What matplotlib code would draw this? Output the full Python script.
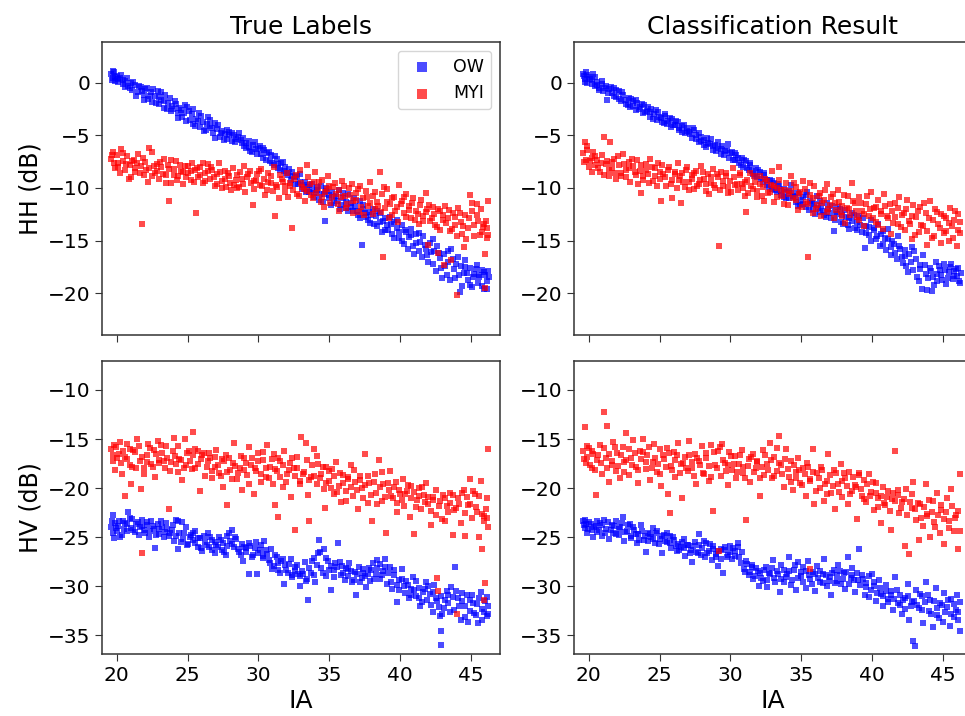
import numpy as np
import matplotlib
matplotlib.use("Agg")
import matplotlib.pyplot as plt

# (IA, dB) pairs, one list per panel and class
hh_ow_true = [(19.6,0.9),(19.7,0.5),(19.8,1.0),(19.9,0.2),(20.0,0.7),(20.1,0.4),(20.3,0.8),(20.4,-0.1),
    (20.6,0.2),(20.8,-0.3),(21.0,0.0),(21.1,-0.7),(21.3,-0.2),(21.5,-0.9),(21.7,-0.4),(21.9,-1.1),
    (22.0,-0.6),(22.2,-1.5),(22.4,-0.9),(22.5,-1.8),(22.7,-1.2),(22.9,-0.8),(23.0,-2.0),(23.1,-1.6),
    (23.3,-2.4),(23.4,-1.1),(23.6,-1.9),(23.8,-2.7),(23.9,-2.2),(24.1,-1.7),(24.3,-2.9),(24.4,-2.4),
    (24.6,-3.2),(24.8,-2.1),(24.9,-3.6),(25.1,-2.7),(25.3,-3.0),(25.4,-3.9),(25.6,-3.4),(25.8,-2.9),
    (25.9,-4.2),(26.1,-3.7),(26.3,-4.5),(26.4,-3.2),(26.6,-4.1),(26.8,-4.8),(26.9,-3.8),(27.1,-4.4),
    (27.3,-5.1),(27.4,-4.6),(27.6,-4.9),(27.8,-5.3),(27.9,-4.7),(28.1,-5.5),(28.3,-5.0),(28.4,-5.3),
    (28.6,-4.8),(28.8,-5.7),(28.9,-5.2),(29.1,-6.2),(29.3,-5.5),(29.4,-6.5),(29.6,-5.9),(29.8,-6.3),
    (29.9,-6.8),(30.1,-6.0),(30.3,-7.1),(30.4,-6.4),(30.6,-6.7),(30.8,-7.4),(30.9,-6.9),(31.1,-7.8),
    (31.3,-7.2),(31.4,-8.1),(31.6,-7.6),(31.8,-8.4),(31.9,-8.0),(32.1,-8.8),(32.3,-9.2),(32.4,-8.5),
    (32.6,-9.0),(32.8,-9.6),(32.9,-8.7),(33.1,-10.1),(33.3,-9.4),(33.4,-9.9),(33.6,-10.4),(33.8,-9.6),
    (33.9,-10.9),(34.1,-10.2),(34.3,-11.1),(34.4,-9.8),(34.6,-10.6),(34.7,-13.1),(34.8,-10.0),(35.0,-11.0),
    (35.2,-10.4),(35.3,-11.4),(35.5,-10.8),(35.7,-10.2),(35.8,-11.6),(36.0,-11.0),(36.2,-11.9),(36.3,-10.6),
    (36.5,-11.4),(36.7,-12.2),(36.8,-11.7),(37.0,-12.6),(37.2,-11.2),(37.3,-15.4),(37.4,-12.0),(37.6,-12.8),
    (37.8,-12.3),(37.9,-13.3),(38.1,-12.0),(38.3,-12.7),(38.4,-13.6),(38.6,-12.4),(38.8,-13.1),(38.9,-14.0),
    (39.1,-13.5),(39.3,-12.8),(39.4,-14.4),(39.6,-13.2),(39.8,-13.8),(39.9,-14.8),(40.1,-13.5),(40.3,-15.3),
    (40.4,-14.2),(40.6,-14.7),(40.8,-13.9),(40.9,-15.5),(41.1,-14.4),(41.3,-16.0),(41.4,-15.1),(41.6,-14.6),
    (41.8,-15.8),(41.9,-16.4),(42.1,-15.2),(42.3,-17.2),(42.4,-16.0),(42.6,-15.5),(42.8,-16.7),(42.9,-17.6),
    (43.1,-16.3),(43.3,-18.3),(43.4,-17.0),(43.6,-15.8),(43.8,-17.7),(43.9,-18.6),(44.1,-16.6),(44.2,-19.9),
    (44.3,-17.4),(44.5,-18.1),(44.6,-16.9),(44.8,-18.8),(44.9,-17.6),(45.1,-19.4),(45.2,-18.2),(45.4,-17.3),
    (45.5,-19.0),(45.6,-18.5),(45.8,-17.8),(45.9,-19.6),(46.0,-18.3),(46.1,-18.9),(46.2,-17.9),
    (19.65,0.3),(19.75,1.1),(19.85,0.6),(20.05,0.1),(20.25,0.5),(20.45,0.3),(20.55,-0.4),(20.75,0.5),
    (20.95,-0.5),(21.15,0.1),(21.35,-1.2),(21.55,-0.3),(21.75,-0.8),(21.95,-1.6),(22.15,-0.5),(22.35,-1.2),
    (22.55,-0.6),(22.75,-1.9),(22.95,-1.3),(23.15,-0.9),(23.35,-1.7),(23.55,-2.5),(23.75,-1.4),(23.95,-2.5),
    (24.15,-2.0),(24.35,-3.3),(24.55,-2.6),(24.75,-2.9),(24.95,-2.3),(25.15,-3.5),(25.35,-2.5),(25.55,-4.1),
    (25.75,-3.6),(25.95,-3.1),(26.15,-4.6),(26.35,-3.9),(26.55,-3.5),(26.75,-4.3),(26.95,-5.2),(27.15,-4.0),
    (27.35,-4.8),(27.55,-5.4),(27.75,-4.5),(27.95,-5.0),(28.15,-4.8),(28.35,-5.6),(28.55,-5.1),(28.75,-5.4),
    (28.95,-6.0),(29.15,-5.7),(29.35,-6.1),(29.55,-6.6),(29.75,-5.6),(29.95,-6.2),(30.15,-6.8),(30.35,-6.2),
    (30.55,-7.3),(30.75,-6.6),(30.95,-7.6),(31.15,-7.0),(31.35,-7.7),(31.55,-8.3),(31.75,-7.5),(31.95,-8.6),
    (32.15,-8.2),(32.35,-8.9),(32.55,-9.6),(32.75,-8.9),(32.95,-9.4),(33.15,-9.7),(33.35,-10.4),(33.55,-9.7),
    (33.75,-10.2),(33.95,-10.5),(34.15,-9.9),(34.35,-10.6),(34.55,-11.3),(34.75,-10.3),(34.95,-10.7),(35.15,-11.6),
    (35.35,-10.9),(35.55,-11.2),(35.75,-12.0),(35.95,-10.5),(36.15,-11.3),(36.35,-12.2),(36.55,-11.8),(36.75,-11.0),
    (36.95,-12.2),(37.15,-12.9),(37.35,-11.6),(37.55,-12.4),(37.75,-13.0),(37.95,-12.6),(38.15,-13.4),(38.35,-12.2),
    (38.55,-13.2),(38.75,-14.2),(38.95,-12.9),(39.15,-14.0),(39.35,-13.4),(39.55,-14.8),(39.75,-13.0),(39.95,-14.2),
    (40.15,-15.0),(40.35,-14.0),(40.55,-15.8),(40.75,-14.5),(40.95,-16.3),(41.15,-15.2),(41.35,-14.3),(41.55,-16.6),
    (41.75,-15.4),(41.95,-17.0),(42.15,-16.1),(42.35,-14.9),(42.55,-17.9),(42.75,-16.2),(42.95,-18.6),(43.15,-17.4),
    (43.35,-16.0),(43.55,-18.8),(43.75,-16.8),(43.95,-17.2),(44.15,-18.3),(44.35,-19.3),(44.55,-17.5),(44.75,-18.1),
    (44.95,-19.2),(45.15,-18.5),(45.35,-17.7),(45.55,-18.3),(45.75,-19.3),(45.95,-18.0),(46.15,-19.6),(46.25,-18.5)]

hh_myi_true = [(19.6,-7.2),(19.7,-6.6),(19.8,-7.6),(20.0,-6.9),(20.1,-8.0),(20.3,-6.3),(20.4,-7.4),
    (20.6,-8.3),(20.7,-7.0),(20.9,-7.8),(21.0,-9.0),(21.2,-7.3),(21.3,-8.5),(21.5,-6.8),(21.7,-7.9),
    (21.8,-13.4),(21.9,-8.8),(22.0,-7.5),(22.2,-9.4),(22.3,-8.1),(22.5,-6.6),(22.7,-8.6),(22.8,-7.7),
    (23.0,-9.1),(23.1,-8.0),(23.3,-7.2),(23.5,-8.8),(23.6,-7.8),(23.7,-11.2),(23.8,-9.5),(24.0,-8.2),
    (24.2,-7.4),(24.3,-8.9),(24.5,-8.4),(24.7,-9.6),(24.8,-7.9),(25.0,-8.6),(25.2,-9.2),(25.3,-7.6),
    (25.5,-8.3),(25.6,-12.4),(25.7,-9.0),(25.9,-8.0),(26.1,-9.5),(26.2,-8.6),(26.4,-7.7),(26.6,-9.1),
    (26.7,-8.3),(26.9,-9.8),(27.1,-8.7),(27.2,-7.6),(27.4,-9.3),(27.6,-8.4),(27.7,-9.9),(27.9,-8.9),
    (28.0,-9.5),(28.2,-8.1),(28.4,-9.2),(28.5,-10.0),(28.7,-8.5),(28.9,-9.6),(29.0,-7.9),(29.2,-9.0),
    (29.4,-8.4),(29.6,-11.6),(29.7,-9.3),(29.9,-8.7),(30.1,-9.7),(30.2,-8.2),(30.4,-9.1),(30.6,-10.2),
    (30.7,-8.6),(30.9,-9.5),(31.1,-8.0),(31.2,-12.7),(31.3,-9.9),(31.5,-8.8),(31.7,-9.4),(31.9,-10.4),
    (32.0,-8.6),(32.2,-9.8),(32.4,-13.8),(32.5,-9.1),(32.7,-10.6),(32.9,-8.3),(33.0,-9.5),(33.2,-10.1),
    (33.4,-7.8),(33.5,-9.0),(33.7,-10.7),(33.9,-9.4),(34.0,-8.5),(34.2,-10.0),(34.4,-11.3),(34.5,-9.2),
    (34.7,-10.4),(34.9,-8.9),(35.0,-9.8),(35.2,-10.9),(35.4,-9.5),(35.6,-11.5),(35.7,-10.2),(35.9,-9.3),
    (36.1,-10.8),(36.2,-11.9),(36.4,-10.0),(36.6,-9.6),(36.7,-11.2),(36.9,-10.5),(37.1,-12.3),(37.2,-9.8),
    (37.4,-11.0),(37.6,-10.3),(37.7,-11.7),(37.9,-9.4),(38.1,-10.8),(38.2,-12.0),(38.4,-11.3),(38.6,-8.5),
    (38.7,-10.6),(38.8,-16.6),(38.9,-11.9),(39.1,-10.1),(39.3,-11.5),(39.4,-12.6),(39.6,-10.9),(39.8,-11.8),
    (39.9,-9.7),(40.1,-11.2),(40.3,-12.4),(40.4,-10.6),(40.6,-11.7),(40.8,-12.9),(40.9,-11.0),(41.1,-12.2),
    (41.3,-13.4),(41.4,-11.6),(41.6,-12.7),(41.8,-10.5),(41.9,-12.0),(42.0,-15.4),(42.1,-13.1),(42.3,-11.8),
    (42.4,-12.5),(42.6,-13.7),(42.7,-16.2),(42.8,-12.2),(43.0,-13.0),(43.1,-17.3),(43.2,-11.7),(43.4,-12.9),
    (43.5,-14.1),(43.6,-16.9),(43.7,-12.4),(43.9,-13.5),(44.0,-20.2),(44.1,-11.9),(44.3,-13.2),(44.4,-14.4),
    (44.5,-15.6),(44.6,-12.6),(44.8,-13.8),(44.9,-10.7),(45.1,-12.2),(45.2,-14.6),(45.4,-11.5),(45.5,-13.1),
    (45.7,-12.0),(45.8,-14.2),(45.9,-13.4),(46.0,-19.5),(46.0,-16.3),(46.1,-13.8),(46.2,-11.2),(46.2,-14.5),
    (19.65,-6.9),(19.85,-8.1),(20.05,-7.6),(20.25,-8.6),(20.45,-6.7),(20.65,-7.7),(20.85,-9.1),(21.05,-7.4),
    (21.25,-8.1),(21.45,-7.6),(21.65,-8.6),(21.85,-7.1),(22.05,-8.3),(22.25,-6.2),(22.45,-8.9),(22.65,-7.9),
    (22.85,-8.4),(23.05,-7.5),(23.25,-8.7),(23.45,-9.5),(23.65,-8.2),(23.85,-7.3),(24.05,-8.8),(24.25,-9.2),
    (24.45,-7.8),(24.65,-8.5),(24.85,-9.0),(25.05,-7.9),(25.25,-8.4),(25.45,-9.4),(25.65,-8.1),(25.85,-8.8),
    (26.05,-7.6),(26.25,-9.3),(26.45,-8.4),(26.65,-8.0),(26.85,-9.0),(27.05,-9.6),(27.25,-8.5),(27.45,-10.0),
    (27.65,-9.1),(27.85,-8.6),(28.05,-10.2),(28.25,-9.7),(28.45,-8.8),(28.65,-9.9),(28.85,-9.1),(29.05,-10.4),
    (29.25,-8.7),(29.45,-9.5),(29.65,-10.1),(29.85,-9.2),(30.05,-8.4),(30.25,-9.8),(30.45,-10.7),(30.65,-9.4),
    (30.85,-8.9),(31.05,-10.3),(31.25,-9.7),(31.45,-11.0),(31.65,-9.1),(31.85,-9.8),(32.05,-10.9),(32.25,-9.5),
    (32.45,-10.2),(32.65,-8.8),(32.85,-10.8),(33.05,-9.9),(33.25,-11.2),(33.45,-10.3),(33.65,-9.6),(33.85,-11.0),
    (34.05,-10.5),(34.25,-9.4),(34.45,-10.9),(34.65,-11.8),(34.85,-10.1),(35.05,-11.4),(35.25,-9.9),(35.45,-10.6),
    (35.65,-12.2),(35.85,-10.9),(36.05,-9.8),(36.25,-11.5),(36.45,-10.7),(36.65,-12.4),(36.85,-11.1),(37.05,-10.1),
    (37.25,-11.8),(37.45,-12.6),(37.65,-10.9),(37.85,-11.4),(38.05,-12.5),(38.25,-10.4),(38.45,-11.7),(38.65,-12.3),
    (38.85,-9.9),(39.05,-11.3),(39.25,-12.9),(39.45,-11.0),(39.65,-12.2),(39.85,-13.2),(40.05,-11.5),(40.25,-10.9),
    (40.45,-12.8),(40.65,-12.1),(40.85,-11.4),(41.05,-13.0),(41.25,-12.5),(41.45,-11.1),(41.65,-13.1),(41.85,-12.3),
    (42.05,-11.6),(42.25,-12.9),(42.45,-13.5),(42.65,-12.0),(42.85,-14.0),(43.05,-12.6),(43.25,-13.3),(43.45,-12.1),
    (43.65,-13.9),(43.85,-12.8),(44.05,-14.6),(44.25,-12.4),(44.45,-13.6),(44.65,-14.9),(44.85,-12.9),(45.05,-11.4),
    (45.25,-13.5),(45.45,-12.6),(45.65,-14.5),(45.85,-13.7),(46.05,-13.1),(46.15,-14.8)]

hh_ow_pred = [(19.6,0.9),(19.7,0.4),(19.8,1.0),(19.9,0.0),(20.0,0.6),(20.2,0.3),(20.3,0.9),(20.4,-0.3),
    (20.6,0.1),(20.7,-0.5),(20.9,-0.1),(21.0,-0.8),(21.2,-0.3),(21.3,-1.6),(21.4,-0.6),(21.6,-1.0),
    (21.8,-0.5),(21.9,-1.3),(22.1,-0.8),(22.3,-1.7),(22.4,-1.1),(22.6,-2.0),(22.8,-1.4),(22.9,-2.3),
    (23.1,-1.7),(23.3,-2.6),(23.4,-1.9),(23.6,-2.3),(23.8,-2.9),(23.9,-2.1),(24.1,-2.7),(24.3,-3.2),
    (24.4,-2.5),(24.6,-3.0),(24.8,-3.5),(24.9,-2.8),(25.1,-3.3),(25.3,-3.8),(25.4,-3.1),(25.6,-3.6),
    (25.8,-4.2),(25.9,-3.4),(26.1,-4.0),(26.3,-3.7),(26.4,-4.5),(26.6,-4.1),(26.8,-4.8),(26.9,-4.3),
    (27.1,-4.7),(27.3,-5.2),(27.4,-4.5),(27.6,-5.0),(27.8,-5.6),(27.9,-5.1),(28.1,-5.4),(28.3,-6.1),
    (28.4,-5.7),(28.6,-5.3),(28.8,-6.4),(28.9,-5.9),(29.1,-6.2),(29.3,-6.8),(29.4,-6.0),(29.6,-6.5),
    (29.8,-5.8),(29.9,-7.1),(30.1,-6.6),(30.3,-7.3),(30.4,-6.9),(30.6,-7.6),(30.8,-7.1),(30.9,-8.0),
    (31.1,-7.4),(31.3,-8.3),(31.4,-7.8),(31.6,-8.7),(31.8,-8.1),(31.9,-9.0),(32.1,-8.5),(32.3,-9.4),
    (32.4,-8.8),(32.6,-9.7),(32.8,-9.2),(32.9,-10.1),(33.1,-9.5),(33.3,-10.4),(33.4,-9.8),(33.6,-10.7),
    (33.8,-10.1),(33.9,-11.0),(34.1,-10.3),(34.3,-9.7),(34.4,-10.8),(34.6,-11.3),(34.8,-10.5),(34.9,-11.6),
    (35.1,-10.9),(35.3,-11.8),(35.4,-10.4),(35.6,-11.2),(35.8,-12.0),(35.9,-11.5),(36.1,-10.8),(36.3,-12.3),
    (36.4,-11.7),(36.6,-12.6),(36.8,-11.4),(36.9,-12.0),(37.1,-12.9),(37.3,-14.1),(37.4,-12.3),(37.6,-11.8),
    (37.8,-13.2),(37.9,-12.6),(38.1,-12.1),(38.3,-13.5),(38.4,-12.9),(38.6,-12.4),(38.8,-13.8),(38.9,-13.2),
    (39.1,-12.7),(39.3,-14.2),(39.5,-15.7),(39.6,-13.6),(39.8,-14.5),(39.9,-13.0),(40.1,-14.0),(40.3,-14.9),
    (40.4,-13.4),(40.6,-14.4),(40.8,-15.3),(40.9,-14.8),(41.1,-13.9),(41.3,-15.6),(41.4,-15.0),(41.6,-16.2),
    (41.8,-14.6),(41.9,-15.5),(42.1,-16.6),(42.3,-15.9),(42.4,-17.4),(42.6,-16.3),(42.8,-15.6),(42.9,-17.8),
    (43.1,-16.8),(43.3,-18.9),(43.4,-17.3),(43.6,-16.4),(43.8,-18.2),(43.9,-19.7),(44.1,-17.6),(44.2,-19.8),
    (44.3,-18.5),(44.5,-17.0),(44.6,-18.9),(44.8,-17.8),(44.9,-18.3),(45.1,-17.2),(45.2,-19.1),(45.4,-18.0),
    (45.5,-17.5),(45.7,-18.7),(45.8,-17.9),(46.0,-18.4),(46.1,-17.6),(46.2,-19.0),
    (19.65,0.7),(19.75,0.1),(19.85,0.8),(20.05,0.4),(20.25,-0.1),(20.45,0.6),(20.55,-0.2),(20.75,-0.7),
    (20.95,0.2),(21.15,-0.5),(21.35,-1.0),(21.55,-0.4),(21.75,-1.2),(21.95,-0.7),(22.15,-1.5),(22.35,-0.9),
    (22.55,-1.6),(22.75,-2.1),(22.95,-1.5),(23.15,-2.2),(23.35,-1.6),(23.55,-2.5),(23.75,-2.0),(23.95,-2.8),
    (24.15,-2.3),(24.35,-2.8),(24.55,-3.4),(24.75,-2.6),(24.95,-3.2),(25.15,-3.7),(25.35,-3.0),(25.55,-3.9),
    (25.75,-3.3),(25.95,-4.0),(26.15,-3.6),(26.35,-4.3),(26.55,-4.7),(26.75,-4.0),(26.95,-4.6),(27.15,-4.9),
    (27.35,-4.3),(27.55,-5.3),(27.75,-4.8),(27.95,-5.5),(28.15,-5.9),(28.35,-5.2),(28.55,-5.8),(28.75,-6.0),
    (28.95,-6.5),(29.15,-5.6),(29.35,-6.3),(29.55,-6.9),(29.75,-6.4),(29.95,-6.7),(30.15,-7.3),(30.35,-6.7),
    (30.55,-7.1),(30.75,-7.8),(30.95,-7.3),(31.15,-8.1),(31.35,-7.6),(31.55,-8.4),(31.75,-8.9),(31.95,-8.3),
    (32.15,-9.1),(32.35,-8.6),(32.55,-9.2),(32.75,-9.9),(32.95,-9.3),(33.15,-10.2),(33.35,-9.6),(33.55,-10.3),
    (33.75,-10.9),(33.95,-10.4),(34.15,-11.0),(34.35,-10.5),(34.55,-10.9),(34.75,-11.7),(34.95,-11.1),(35.15,-11.5),
    (35.35,-10.7),(35.55,-12.1),(35.75,-11.4),(35.95,-12.5),(36.15,-11.9),(36.35,-11.2),(36.55,-12.2),(36.75,-12.8),
    (36.95,-12.4),(37.15,-11.7),(37.35,-13.0),(37.55,-12.5),(37.75,-12.0),(37.95,-13.4),(38.15,-12.8),(38.35,-13.9),
    (38.55,-13.1),(38.75,-12.6),(38.95,-14.0),(39.15,-13.5),(39.35,-12.9),(39.55,-14.3),(39.75,-13.7),(39.95,-15.0),
    (40.15,-13.8),(40.35,-14.6),(40.55,-15.5),(40.75,-14.1),(40.95,-15.9),(41.15,-14.9),(41.35,-16.4),(41.55,-15.3),
    (41.75,-16.8),(41.95,-15.8),(42.15,-17.1),(42.35,-16.5),(42.55,-18.0),(42.75,-17.0),(42.95,-16.0),(43.15,-18.5),
    (43.35,-17.7),(43.55,-19.6),(43.75,-17.3),(43.95,-18.6),(44.15,-17.9),(44.35,-19.2),(44.55,-18.2),(44.75,-17.4),
    (44.95,-18.8),(45.15,-17.8),(45.35,-18.6),(45.55,-17.2),(45.75,-18.4),(45.95,-17.7),(46.15,-18.9),(46.25,-18.1)]

hh_myi_pred = [(19.6,-6.7),(19.7,-5.6),(19.8,-7.3),(19.9,-6.0),(20.0,-8.0),(20.2,-7.1),(20.3,-6.6),
    (20.4,-7.8),(20.6,-7.3),(20.8,-8.5),(20.9,-6.9),(21.1,-5.1),(21.2,-7.7),(21.4,-8.9),(21.5,-5.6),
    (21.6,-8.1),(21.8,-7.2),(21.9,-9.1),(22.1,-7.8),(22.3,-8.6),(22.4,-6.8),(22.6,-8.3),(22.8,-7.5),
    (22.9,-9.4),(23.1,-7.9),(23.3,-8.8),(23.4,-7.3),(23.6,-8.4),(23.7,-10.5),(23.8,-9.2),(24.0,-7.7),
    (24.2,-8.7),(24.3,-7.2),(24.5,-9.3),(24.7,-8.1),(24.8,-9.8),(25.0,-8.5),(25.1,-11.2),(25.2,-7.8),
    (25.4,-9.0),(25.6,-8.3),(25.8,-9.6),(25.9,-11.0),(26.1,-8.7),(26.3,-7.6),(26.4,-9.2),(26.5,-11.4),
    (26.6,-8.6),(26.8,-9.9),(26.9,-8.0),(27.1,-9.4),(27.3,-8.8),(27.4,-10.1),(27.6,-8.4),(27.8,-9.6),
    (27.9,-7.9),(28.1,-9.1),(28.3,-10.3),(28.4,-8.7),(28.6,-9.5),(28.8,-8.2),(28.9,-10.0),(29.1,-9.0),
    (29.2,-15.5),(29.3,-8.5),(29.5,-9.8),(29.7,-8.9),(29.8,-10.5),(30.0,-9.3),(30.2,-8.1),(30.3,-9.7),
    (30.5,-10.2),(30.7,-8.8),(30.8,-9.6),(31.0,-10.8),(31.1,-12.3),(31.2,-9.2),(31.4,-8.6),(31.6,-10.1),
    (31.7,-9.4),(31.9,-10.9),(32.1,-8.9),(32.3,-9.9),(32.4,-11.2),(32.6,-9.3),(32.8,-10.4),(32.9,-8.4),
    (33.1,-9.8),(33.3,-10.9),(33.4,-8.0),(33.6,-10.2),(33.8,-11.5),(33.9,-9.5),(34.1,-10.6),(34.3,-8.9),
    (34.4,-11.0),(34.6,-9.9),(34.8,-12.1),(34.9,-10.4),(35.1,-9.3),(35.3,-11.3),(35.5,-16.6),(35.6,-10.7),
    (35.8,-12.4),(35.9,-9.8),(36.1,-11.6),(36.3,-10.5),(36.4,-12.7),(36.6,-11.1),(36.8,-9.6),(36.9,-12.0),
    (37.1,-10.9),(37.3,-12.9),(37.4,-11.4),(37.6,-10.2),(37.8,-12.3),(37.9,-11.7),(38.1,-13.3),(38.3,-10.8),
    (38.4,-12.0),(38.6,-9.5),(38.8,-11.4),(38.9,-12.8),(39.1,-10.9),(39.3,-12.2),(39.4,-13.6),(39.6,-11.5),
    (39.8,-12.7),(39.9,-10.4),(40.1,-11.9),(40.3,-13.2),(40.4,-11.1),(40.6,-12.5),(40.8,-13.9),(40.9,-11.7),
    (41.1,-12.9),(41.3,-14.4),(41.4,-12.2),(41.6,-11.4),(41.8,-13.4),(41.9,-10.9),(42.1,-12.6),(42.3,-14.0),
    (42.4,-12.0),(42.6,-13.1),(42.8,-14.9),(42.9,-11.6),(43.1,-12.8),(43.3,-14.2),(43.4,-11.8),(43.6,-13.6),
    (43.8,-12.4),(43.9,-15.4),(44.1,-11.2),(44.3,-13.0),(44.4,-14.6),(44.6,-12.3),(44.8,-13.8),(44.9,-15.2),
    (45.1,-12.7),(45.2,-14.1),(45.4,-13.3),(45.5,-11.9),(45.7,-14.8),(45.8,-13.0),(46.0,-15.5),(46.1,-12.5),
    (46.2,-14.3),
    (19.65,-7.5),(19.85,-6.4),(20.05,-7.4),(20.25,-8.5),(20.45,-7.0),(20.65,-8.1),(20.85,-7.6),(21.05,-8.8),
    (21.25,-7.4),(21.45,-8.3),(21.65,-7.5),(21.85,-8.6),(22.05,-7.0),(22.25,-8.9),(22.45,-7.7),(22.65,-9.0),
    (22.85,-8.1),(23.05,-7.2),(23.25,-8.5),(23.45,-9.6),(23.65,-7.8),(23.85,-8.9),(24.05,-8.3),(24.25,-9.5),
    (24.45,-8.0),(24.65,-8.9),(24.85,-7.6),(25.05,-9.1),(25.25,-8.7),(25.45,-9.8),(25.65,-8.0),(25.85,-9.2),
    (26.05,-8.5),(26.25,-10.0),(26.45,-8.9),(26.65,-9.4),(26.85,-8.3),(27.05,-10.2),(27.25,-9.1),(27.45,-8.6),
    (27.65,-9.8),(27.85,-9.2),(28.05,-8.5),(28.25,-9.6),(28.45,-10.6),(28.65,-9.0),(28.85,-9.7),(29.05,-8.7),
    (29.25,-10.2),(29.45,-9.3),(29.65,-8.6),(29.85,-9.9),(30.05,-10.4),(30.25,-9.0),(30.45,-9.6),(30.65,-8.6),
    (30.85,-10.0),(31.05,-9.4),(31.25,-10.5),(31.45,-9.8),(31.65,-8.9),(31.85,-10.3),(32.05,-9.6),(32.25,-10.8),
    (32.45,-9.1),(32.65,-10.5),(32.85,-9.7),(33.05,-11.3),(33.25,-10.0),(33.45,-9.2),(33.65,-10.8),(33.85,-10.2),
    (34.05,-11.6),(34.25,-10.3),(34.45,-9.5),(34.65,-11.1),(34.85,-10.6),(35.05,-11.8),(35.25,-10.1),(35.45,-11.5),
    (35.65,-9.5),(35.85,-11.0),(36.05,-12.0),(36.25,-10.8),(36.45,-11.4),(36.65,-10.2),(36.85,-12.3),(37.05,-11.6),
    (37.25,-10.6),(37.45,-12.1),(37.65,-11.3),(37.85,-12.7),(38.05,-10.7),(38.25,-11.9),(38.45,-12.6),(38.65,-11.2),
    (38.85,-12.2),(39.05,-13.0),(39.25,-11.4),(39.45,-12.5),(39.65,-10.8),(39.85,-12.0),(40.05,-12.9),(40.25,-11.8),
    (40.45,-13.5),(40.65,-12.2),(40.85,-10.6),(41.05,-12.7),(41.25,-11.5),(41.45,-13.3),(41.65,-12.8),(41.85,-11.9),
    (42.05,-13.7),(42.25,-12.4),(42.45,-11.1),(42.65,-13.4),(42.85,-12.7),(43.05,-14.5),(43.25,-12.2),(43.45,-13.5),
    (43.65,-11.4),(43.85,-14.1),(44.05,-12.9),(44.25,-14.8),(44.45,-12.0),(44.65,-13.4),(44.85,-12.5),(45.05,-14.3),
    (45.25,-12.9),(45.45,-15.0),(45.65,-13.6),(45.85,-12.2),(46.05,-14.0),(46.2,-13.2)]

hv_ow_true = [(19.6,-24.0),(19.7,-22.7),(19.8,-25.1),(19.9,-23.6),(20.0,-24.4),(20.1,-23.9),(20.2,-25.0),
    (20.4,-23.4),(20.5,-24.2),(20.7,-23.7),(20.8,-22.4),(21.0,-24.1),(21.1,-23.1),(21.3,-24.5),(21.5,-23.5),
    (21.6,-24.0),(21.8,-23.2),(22.0,-24.6),(22.1,-23.8),(22.3,-25.0),(22.4,-23.4),(22.6,-24.2),(22.7,-26.1),
    (22.9,-23.7),(23.0,-24.7),(23.2,-24.0),(23.4,-24.5),(23.5,-23.6),(23.7,-24.9),(23.9,-24.3),(24.0,-25.4),
    (24.2,-23.2),(24.3,-26.2),(24.4,-24.6),(24.6,-23.5),(24.7,-25.2),(24.9,-24.0),(25.0,-25.7),(25.2,-24.8),
    (25.4,-25.3),(25.5,-24.4),(25.7,-26.0),(25.9,-25.1),(26.0,-26.4),(26.2,-25.5),(26.4,-24.6),(26.5,-26.0),
    (26.7,-25.3),(26.9,-26.6),(27.0,-25.8),(27.2,-25.0),(27.4,-26.3),(27.5,-25.6),(27.7,-26.8),(27.8,-24.9),
    (28.0,-25.4),(28.1,-24.3),(28.3,-26.0),(28.4,-25.2),(28.6,-26.5),(28.8,-25.7),(28.9,-27.4),(29.1,-26.1),
    (29.3,-28.7),(29.4,-25.9),(29.6,-26.8),(29.8,-25.5),(29.9,-28.7),(30.1,-26.3),(30.3,-27.1),(30.4,-25.4),
    (30.6,-26.7),(30.8,-27.6),(30.9,-26.2),(31.1,-27.9),(31.3,-27.0),(31.4,-28.3),(31.6,-27.4),(31.8,-29.8),
    (31.9,-27.8),(32.1,-28.6),(32.3,-27.2),(32.4,-29.1),(32.6,-28.0),(32.8,-28.8),(32.9,-30.0),(33.1,-28.4),
    (33.3,-27.5),(33.4,-29.3),(33.5,-31.4),(33.7,-28.6),(33.9,-27.1),(34.0,-29.6),(34.2,-26.6),(34.3,-25.3),
    (34.4,-28.1),(34.6,-26.2),(34.8,-29.0),(34.9,-27.4),(35.1,-30.4),(35.3,-28.3),(35.4,-27.6),(35.6,-25.6),
    (35.8,-28.9),(35.9,-27.9),(36.1,-29.4),(36.3,-28.2),(36.4,-27.6),(36.6,-29.6),(36.8,-28.5),(36.9,-30.9),
    (37.1,-28.0),(37.3,-29.2),(37.4,-28.6),(37.6,-30.1),(37.8,-28.1),(37.9,-29.5),(38.1,-27.6),(38.3,-28.8),
    (38.4,-27.3),(38.6,-29.3),(38.8,-28.4),(38.9,-27.2),(39.1,-29.8),(39.3,-28.0),(39.4,-30.3),(39.6,-28.9),
    (39.8,-31.6),(39.9,-29.4),(40.1,-28.2),(40.3,-30.0),(40.4,-29.5),(40.6,-31.2),(40.8,-30.3),(40.9,-29.1),
    (41.1,-31.0),(41.3,-30.2),(41.4,-32.0),(41.6,-30.6),(41.8,-29.6),(41.9,-31.4),(42.1,-30.8),(42.3,-32.6),
    (42.4,-29.9),(42.6,-31.5),(42.8,-33.0),(42.9,-31.0),(42.9,-34.6),(42.9,-36.0),(43.1,-32.2),(43.3,-30.5),
    (43.4,-31.7),(43.6,-30.1),(43.8,-32.4),(43.9,-28.0),(44.1,-31.2),(44.3,-33.4),(44.4,-30.7),(44.6,-32.0),
    (44.8,-33.6),(44.9,-31.4),(45.1,-30.9),(45.2,-32.7),(45.4,-31.8),(45.5,-33.7),(45.7,-30.6),(45.8,-32.3),
    (46.0,-31.5),(46.1,-33.0),(46.2,-32.0),
    (19.65,-23.4),(19.75,-24.6),(19.95,-24.1),(20.15,-23.3),(20.35,-24.8),(20.55,-23.6),(20.75,-24.4),(20.95,-23.0),
    (21.15,-24.3),(21.35,-23.7),(21.55,-24.8),(21.75,-23.9),(21.95,-24.3),(22.15,-23.5),(22.35,-24.4),(22.55,-23.9),
    (22.75,-24.8),(22.95,-24.2),(23.15,-23.4),(23.35,-25.0),(23.55,-24.2),(23.75,-24.6),(23.95,-23.8),(24.15,-24.9),
    (24.35,-23.4),(24.55,-25.5),(24.75,-24.6),(24.95,-25.8),(25.15,-25.0),(25.35,-24.6),(25.55,-25.6),(25.75,-25.1),
    (25.95,-26.1),(26.15,-24.9),(26.35,-25.8),(26.55,-25.0),(26.75,-26.3),(26.95,-25.5),(27.15,-26.0),(27.35,-25.3),
    (27.55,-26.5),(27.75,-25.9),(27.95,-24.6),(28.15,-25.7),(28.35,-25.0),(28.55,-26.2),(28.75,-26.8),(28.95,-26.0),
    (29.15,-26.5),(29.35,-25.6),(29.55,-27.0),(29.75,-26.1),(29.95,-26.6),(30.15,-25.8),(30.35,-26.9),(30.55,-26.3),
    (30.75,-27.3),(30.95,-28.2),(31.15,-26.8),(31.35,-27.6),(31.55,-28.6),(31.75,-27.2),(31.95,-28.3),(32.15,-27.7),
    (32.35,-28.9),(32.55,-28.4),(32.75,-27.8),(32.95,-29.0),(33.15,-28.7),(33.35,-29.5),(33.55,-28.1),(33.75,-27.4),
    (33.95,-28.9),(34.15,-27.8),(34.35,-26.5),(34.55,-28.6),(34.75,-27.1),(34.95,-28.3),(35.15,-27.9),(35.35,-29.1),
    (35.55,-28.0),(35.75,-27.5),(35.95,-28.6),(36.15,-28.1),(36.35,-29.0),(36.55,-28.4),(36.75,-29.4),(36.95,-28.7),
    (37.15,-29.6),(37.35,-28.2),(37.55,-29.0),(37.75,-28.8),(37.95,-28.3),(38.15,-29.3),(38.35,-28.1),(38.55,-27.7),
    (38.75,-28.9),(38.95,-28.0),(39.15,-28.6),(39.35,-29.6),(39.55,-28.3),(39.75,-29.9),(39.95,-30.4),(40.15,-29.3),
    (40.35,-30.7),(40.55,-29.9),(40.75,-30.9),(40.95,-30.4),(41.15,-29.5),(41.35,-31.2),(41.55,-31.6),(41.75,-30.3),
    (41.95,-30.0),(42.15,-31.9),(42.35,-30.6),(42.55,-31.2),(42.75,-32.1),(42.95,-32.8),(43.15,-31.4),(43.35,-30.9),
    (43.55,-32.6),(43.75,-31.1),(43.95,-30.5),(44.15,-32.0),(44.35,-31.5),(44.55,-33.1),(44.75,-30.9),(44.95,-32.5),
    (45.15,-31.7),(45.35,-32.9),(45.55,-31.2),(45.75,-33.4),(45.95,-32.6),(46.1,-31.1),(46.2,-32.8)]

hv_myi_true = [(19.6,-16.0),(19.7,-16.6),(19.8,-15.6),(19.9,-18.2),(20.0,-16.9),(20.2,-15.3),(20.3,-17.4),
    (20.4,-16.2),(20.6,-20.8),(20.7,-17.0),(20.9,-16.0),(21.0,-19.6),(21.1,-17.8),(21.3,-16.3),(21.4,-15.0),
    (21.6,-17.2),(21.7,-20.1),(21.8,-26.6),(21.9,-18.6),(22.1,-16.6),(22.2,-15.5),(22.4,-17.5),(22.6,-16.1),
    (22.7,-18.9),(22.9,-15.2),(23.0,-17.1),(23.2,-16.4),(23.4,-18.0),(23.5,-15.7),(23.7,-22.1),(23.8,-17.3),
    (24.0,-14.9),(24.1,-16.7),(24.3,-18.4),(24.4,-17.0),(24.6,-19.2),(24.8,-15.0),(24.9,-17.6),(25.1,-16.2),
    (25.3,-18.1),(25.4,-14.3),(25.5,-16.0),(25.7,-17.5),(25.9,-20.3),(26.0,-16.6),(26.2,-18.8),(26.4,-17.2),
    (26.5,-16.4),(26.7,-19.0),(26.9,-17.8),(27.0,-16.1),(27.2,-18.5),(27.4,-17.0),(27.5,-19.9),(27.7,-16.6),
    (27.8,-21.7),(28.0,-18.2),(28.2,-17.4),(28.3,-15.4),(28.5,-19.1),(28.7,-18.0),(28.8,-20.2),(29.0,-16.9),
    (29.2,-18.7),(29.3,-15.8),(29.5,-17.6),(29.7,-20.6),(29.8,-18.3),(30.0,-16.4),(30.2,-19.4),(30.3,-17.1),
    (30.5,-18.9),(30.6,-15.6),(30.8,-17.8),(31.0,-19.6),(31.1,-16.5),(31.2,-21.7),(31.3,-18.3),(31.4,-22.9),
    (31.5,-17.2),(31.7,-19.9),(31.8,-16.2),(32.0,-18.6),(32.2,-17.4),(32.3,-20.9),(32.5,-18.0),(32.6,-24.3),
    (32.7,-16.8),(32.9,-19.3),(33.0,-14.8),(33.2,-18.4),(33.4,-17.1),(33.5,-20.7),(33.6,-23.3),(33.7,-18.9),
    (33.9,-16.0),(34.1,-19.6),(34.2,-17.5),(34.4,-18.6),(34.6,-20.1),(34.7,-22.0),(34.8,-17.8),(35.0,-19.3),
    (35.2,-18.1),(35.3,-20.6),(35.5,-17.3),(35.7,-19.8),(35.8,-21.4),(36.0,-18.7),(36.2,-20.3),(36.3,-19.1),
    (36.5,-17.6),(36.7,-20.8),(36.8,-19.4),(37.0,-22.1),(37.2,-18.8),(37.3,-20.0),(37.5,-16.5),(37.7,-21.5),
    (37.8,-19.5),(38.0,-23.4),(38.2,-18.6),(38.3,-20.5),(38.5,-17.1),(38.7,-21.3),(38.8,-19.6),(39.0,-24.6),
    (39.2,-20.2),(39.3,-18.3),(39.5,-21.0),(39.7,-19.4),(39.8,-22.4),(40.0,-20.6),(40.2,-19.1),(40.3,-21.8),
    (40.5,-20.3),(40.7,-22.9),(40.8,-19.8),(41.0,-24.7),(41.2,-21.2),(41.3,-20.0),(41.5,-22.1),(41.7,-20.7),
    (41.8,-19.5),(42.0,-21.6),(42.2,-23.8),(42.3,-20.9),(42.5,-22.7),(42.6,-29.2),(42.7,-30.5),(42.8,-21.3),
    (43.0,-20.7),(43.2,-23.3),(43.3,-21.8),(43.5,-20.5),(43.7,-24.8),(43.8,-22.2),(44.0,-32.8),(44.1,-21.0),
    (44.3,-23.6),(44.5,-20.2),(44.6,-24.9),(44.8,-21.7),(44.9,-19.1),(45.1,-23.0),(45.3,-20.6),(45.4,-22.4),
    (45.6,-25.0),(45.7,-19.3),(45.8,-26.2),(45.9,-22.8),(45.9,-31.4),(46.0,-29.7),(46.1,-21.0),(46.2,-16.0),
    (46.2,-24.0),
    (19.75,-17.2),(19.95,-15.8),(20.15,-16.5),(20.35,-18.6),(20.55,-16.8),(20.75,-15.5),(20.95,-17.6),(21.15,-16.1),
    (21.35,-17.9),(21.55,-15.7),(21.75,-16.8),(21.95,-18.0),(22.15,-17.3),(22.35,-15.9),(22.55,-17.8),(22.75,-16.5),
    (22.95,-17.4),(23.15,-15.6),(23.35,-17.2),(23.55,-16.9),(23.75,-18.3),(23.95,-16.2),(24.15,-17.5),(24.35,-15.7),
    (24.55,-17.1),(24.75,-18.0),(24.95,-16.4),(25.15,-17.2),(25.35,-16.6),(25.55,-17.9),(25.75,-16.2),(25.95,-17.0),
    (26.15,-16.4),(26.35,-17.8),(26.55,-16.9),(26.75,-18.3),(26.95,-16.8),(27.15,-17.6),(27.35,-18.8),(27.55,-17.2),
    (27.75,-18.4),(27.95,-16.9),(28.15,-19.1),(28.35,-17.7),(28.55,-18.5),(28.75,-16.7),(28.95,-18.2),(29.15,-17.4),
    (29.35,-19.6),(29.55,-16.9),(29.75,-18.0),(29.95,-17.2),(30.15,-18.6),(30.35,-16.3),(30.55,-17.9),(30.75,-19.0),
    (30.95,-17.0),(31.15,-18.1),(31.35,-16.9),(31.55,-18.9),(31.75,-17.6),(31.95,-19.4),(32.15,-18.2),(32.35,-16.9),
    (32.55,-18.8),(32.75,-17.9),(32.95,-19.6),(33.15,-18.6),(33.35,-15.4),(33.55,-19.2),(33.75,-17.6),(33.95,-18.8),
    (34.15,-16.7),(34.35,-19.0),(34.55,-17.8),(34.75,-19.5),(34.95,-18.3),(35.15,-20.0),(35.35,-18.8),(35.55,-20.4),
    (35.75,-18.5),(35.95,-19.5),(36.15,-21.3),(36.35,-18.9),(36.55,-19.9),(36.75,-18.2),(36.95,-20.2),(37.15,-19.2),
    (37.35,-21.0),(37.55,-19.7),(37.75,-18.8),(37.95,-20.7),(38.15,-19.4),(38.35,-21.6),(38.55,-19.9),(38.75,-18.4),
    (38.95,-20.9),(39.15,-19.5),(39.35,-20.8),(39.55,-19.9),(39.75,-21.5),(39.95,-20.2),(40.15,-21.2),(40.35,-20.6),
    (40.55,-19.7),(40.75,-21.0),(40.95,-20.4),(41.15,-21.9),(41.35,-20.8),(41.55,-19.9),(41.75,-21.4),(41.95,-20.9),
    (42.15,-22.3),(42.35,-21.2),(42.55,-20.2),(42.75,-21.8),(42.95,-23.1),(43.15,-21.0),(43.35,-22.4),(43.55,-21.5),
    (43.75,-20.7),(43.95,-22.0),(44.15,-21.6),(44.35,-20.5),(44.55,-22.5),(44.75,-20.9),(44.95,-21.6),(45.15,-20.3),
    (45.35,-21.9),(45.55,-20.8),(45.75,-22.6),(45.95,-23.3),(46.05,-22.1),(46.15,-23.0)]

hv_ow_pred = [(19.6,-23.3),(19.7,-24.1),(19.8,-23.7),(19.9,-24.6),(20.0,-23.5),(20.2,-24.3),(20.3,-25.0),
    (20.5,-23.9),(20.6,-24.5),(20.8,-23.6),(20.9,-24.9),(21.1,-23.2),(21.2,-24.2),(21.4,-25.2),(21.6,-23.8),
    (21.7,-24.6),(21.9,-23.4),(22.1,-24.8),(22.2,-24.0),(22.4,-22.9),(22.5,-25.4),(22.7,-24.4),(22.9,-23.7),
    (23.0,-25.1),(23.2,-24.3),(23.4,-25.6),(23.5,-24.7),(23.7,-23.8),(23.9,-25.3),(24.0,-26.5),(24.2,-24.6),
    (24.4,-25.0),(24.5,-24.1),(24.7,-25.6),(24.8,-24.4),(25.0,-25.2),(25.2,-26.6),(25.3,-24.8),(25.5,-25.5),
    (25.7,-24.9),(25.8,-26.1),(26.0,-25.3),(26.2,-26.4),(26.3,-25.7),(26.5,-26.0),(26.7,-25.2),(26.8,-26.9),
    (27.0,-25.8),(27.2,-26.3),(27.3,-27.5),(27.5,-25.5),(27.7,-26.6),(27.8,-24.7),(28.0,-26.1),(28.2,-27.0),
    (28.3,-25.6),(28.5,-26.4),(28.7,-27.3),(28.8,-25.9),(29.0,-26.7),(29.1,-27.9),(29.3,-26.2),(29.5,-28.6),
    (29.6,-26.0),(29.8,-26.8),(30.0,-25.9),(30.1,-27.2),(30.3,-26.4),(30.5,-25.6),(30.6,-27.0),(30.8,-26.5),
    (31.0,-28.5),(31.1,-27.4),(31.3,-28.9),(31.5,-27.8),(31.6,-29.3),(31.8,-28.1),(32.0,-30.0),(32.1,-28.6),
    (32.3,-29.5),(32.5,-28.0),(32.6,-30.1),(32.8,-28.8),(33.0,-27.3),(33.1,-29.2),(33.3,-28.4),(33.5,-30.6),
    (33.6,-27.8),(33.8,-29.6),(34.0,-28.7),(34.1,-27.0),(34.3,-29.9),(34.5,-28.3),(34.6,-30.4),(34.8,-27.5),
    (35.0,-29.0),(35.1,-28.0),(35.3,-30.2),(35.5,-27.4),(35.6,-29.3),(35.8,-28.5),(36.0,-30.5),(36.1,-27.9),
    (36.3,-29.6),(36.5,-28.8),(36.6,-27.2),(36.8,-30.0),(37.0,-29.1),(37.1,-30.9),(37.3,-28.3),(37.5,-29.5),
    (37.6,-27.8),(37.8,-29.8),(38.0,-28.6),(38.1,-30.3),(38.3,-27.0),(38.5,-29.2),(38.6,-28.1),(38.8,-30.6),
    (39.0,-29.4),(39.1,-26.2),(39.3,-28.9),(39.5,-30.9),(39.6,-29.7),(39.8,-31.1),(40.0,-28.7),(40.1,-30.0),
    (40.3,-31.5),(40.5,-29.4),(40.6,-30.8),(40.8,-32.0),(41.0,-29.9),(41.1,-31.3),(41.3,-30.5),(41.5,-32.4),
    (41.6,-29.1),(41.8,-31.7),(42.0,-30.9),(42.1,-32.8),(42.3,-31.2),(42.5,-29.8),(42.6,-33.4),(42.8,-31.6),
    (42.9,-35.6),(43.0,-36.1),(43.1,-30.4),(43.3,-32.2),(43.5,-31.0),(43.6,-33.7),(43.8,-29.6),(44.0,-32.5),
    (44.1,-31.4),(44.3,-34.2),(44.5,-30.2),(44.6,-32.9),(44.8,-31.7),(45.0,-33.6),(45.1,-30.7),(45.3,-32.1),
    (45.5,-34.0),(45.6,-31.3),(45.8,-33.1),(46.0,-30.9),(46.1,-32.6),(46.2,-34.6),
    (19.65,-23.8),(19.75,-23.2),(19.95,-24.2),(20.15,-23.7),(20.35,-24.0),(20.55,-23.3),(20.75,-24.3),(20.95,-23.8),
    (21.15,-24.6),(21.35,-23.5),(21.55,-24.3),(21.75,-23.9),(21.95,-24.7),(22.15,-24.2),(22.35,-23.6),(22.55,-24.5),
    (22.75,-23.8),(22.95,-24.9),(23.15,-24.0),(23.35,-24.7),(23.55,-25.3),(23.75,-24.4),(23.95,-24.9),(24.15,-25.4),
    (24.35,-24.7),(24.55,-25.2),(24.75,-24.6),(24.95,-25.7),(25.15,-24.9),(25.35,-25.4),(25.55,-24.6),(25.75,-25.6),
    (25.95,-25.0),(26.15,-25.9),(26.35,-26.3),(26.55,-25.5),(26.75,-26.1),(26.95,-25.8),(27.15,-26.6),(27.35,-25.9),
    (27.55,-26.5),(27.75,-25.8),(27.95,-26.8),(28.15,-25.4),(28.35,-26.6),(28.55,-25.7),(28.75,-26.2),(28.95,-27.0),
    (29.15,-26.4),(29.35,-27.2),(29.55,-26.3),(29.75,-27.0),(29.95,-26.5),(30.15,-26.1),(30.35,-26.9),(30.55,-26.0),
    (30.75,-27.6),(30.95,-28.2),(31.15,-27.7),(31.35,-28.5),(31.55,-28.0),(31.75,-29.0),(31.95,-28.4),(32.15,-29.2),
    (32.35,-28.3),(32.55,-29.4),(32.75,-28.6),(32.95,-28.1),(33.15,-29.6),(33.35,-28.8),(33.55,-29.3),(33.75,-28.3),
    (33.95,-29.1),(34.15,-28.4),(34.35,-29.4),(34.55,-27.8),(34.75,-29.2),(34.95,-28.5),(35.15,-29.6),(35.35,-28.4),
    (35.55,-28.9),(35.75,-29.8),(35.95,-28.8),(36.15,-29.2),(36.35,-28.4),(36.55,-29.7),(36.75,-28.9),(36.95,-29.5),
    (37.15,-28.6),(37.35,-29.7),(37.55,-28.9),(37.75,-28.4),(37.95,-29.3),(38.15,-28.5),(38.35,-29.8),(38.55,-28.9),
    (38.75,-29.4),(38.95,-28.6),(39.15,-29.9),(39.35,-29.3),(39.55,-30.1),(39.75,-29.0),(39.95,-30.4),(40.15,-29.6),
    (40.35,-30.7),(40.55,-30.2),(40.75,-31.0),(40.95,-30.5),(41.15,-31.6),(41.35,-30.9),(41.55,-31.3),(41.75,-30.4),
    (41.95,-31.9),(42.15,-31.4),(42.35,-32.3),(42.55,-31.0),(42.75,-32.0),(42.95,-31.5),(43.15,-31.9),(43.35,-30.8),
    (43.55,-32.4),(43.75,-31.6),(43.95,-30.9),(44.15,-32.8),(44.35,-31.5),(44.55,-32.2),(44.75,-33.2),(44.95,-31.9),
    (45.15,-32.6),(45.35,-31.4),(45.55,-32.8),(45.75,-31.8),(45.95,-32.4),(46.1,-33.4),(46.2,-31.6)]

hv_myi_pred = [(19.6,-16.2),(19.7,-13.8),(19.8,-17.4),(19.9,-16.8),(20.0,-15.9),(20.2,-18.0),(20.3,-16.5),
    (20.5,-20.7),(20.6,-17.1),(20.8,-15.6),(20.9,-18.6),(21.1,-12.2),(21.2,-16.9),(21.3,-13.7),(21.4,-19.4),
    (21.6,-17.6),(21.7,-15.3),(21.9,-18.3),(22.0,-16.4),(22.2,-19.0),(22.4,-15.8),(22.5,-17.3),(22.6,-14.4),
    (22.8,-18.7),(23.0,-16.9),(23.1,-15.1),(23.3,-17.8),(23.5,-19.5),(23.6,-16.2),(23.8,-15.0),(24.0,-18.1),
    (24.1,-16.6),(24.3,-19.2),(24.5,-17.3),(24.6,-15.5),(24.8,-18.4),(25.0,-16.0),(25.1,-19.8),(25.3,-17.0),
    (25.5,-15.9),(25.6,-20.6),(25.7,-22.5),(25.8,-17.7),(26.0,-16.3),(26.1,-18.9),(26.3,-15.4),(26.5,-17.5),
    (26.6,-21.0),(26.8,-16.8),(27.0,-18.3),(27.1,-15.2),(27.3,-17.9),(27.5,-16.5),(27.6,-19.6),(27.8,-17.2),
    (28.0,-15.7),(28.1,-18.6),(28.3,-16.9),(28.5,-19.3),(28.6,-15.6),(28.8,-22.3),(28.9,-17.6),(29.1,-16.2),
    (29.2,-26.4),(29.3,-18.8),(29.4,-15.5),(29.6,-17.4),(29.8,-19.7),(29.9,-16.3),(30.1,-18.2),(30.3,-16.7),
    (30.4,-19.0),(30.6,-17.5),(30.8,-16.1),(30.9,-18.5),(31.1,-23.2),(31.3,-17.0),(31.4,-19.4),(31.6,-16.5),
    (31.8,-18.0),(31.9,-17.3),(32.1,-20.8),(32.3,-16.1),(32.4,-18.7),(32.6,-17.5),(32.8,-15.4),(32.9,-19.0),
    (33.1,-16.8),(33.3,-18.3),(33.4,-14.7),(33.6,-17.6),(33.8,-19.9),(33.9,-16.0),(34.1,-18.9),(34.3,-17.2),
    (34.4,-20.2),(34.6,-18.4),(34.8,-16.9),(34.9,-19.5),(35.1,-18.0),(35.3,-20.8),(35.4,-17.4),(35.6,-28.2),
    (35.6,-19.1),(35.8,-16.0),(35.9,-21.6),(36.1,-18.5),(36.3,-20.0),(36.4,-17.8),(36.6,-21.3),(36.8,-19.3),
    (36.9,-16.5),(37.1,-20.5),(37.3,-18.2),(37.4,-22.1),(37.6,-19.6),(37.8,-17.5),(37.9,-20.9),(38.1,-19.0),
    (38.3,-21.6),(38.4,-18.4),(38.6,-20.3),(38.8,-19.7),(38.9,-23.1),(39.1,-18.5),(39.3,-20.8),(39.4,-19.2),
    (39.6,-21.4),(39.8,-18.6),(39.9,-20.4),(40.1,-22.2),(40.3,-19.5),(40.4,-21.0),(40.6,-23.6),(40.8,-19.9),
    (40.9,-21.7),(41.1,-20.3),(41.3,-24.3),(41.4,-21.1),(41.6,-16.2),(41.8,-20.7),(41.9,-22.5),(42.1,-21.4),
    (42.3,-25.9),(42.4,-20.1),(42.6,-26.7),(42.8,-22.0),(42.9,-19.4),(43.1,-23.2),(43.3,-25.3),(43.4,-21.6),
    (43.6,-23.9),(43.8,-19.6),(43.9,-22.6),(44.1,-25.0),(44.3,-21.3),(44.4,-23.5),(44.6,-20.5),(44.8,-24.6),
    (44.9,-22.2),(45.1,-25.7),(45.3,-21.0),(45.4,-23.4),(45.6,-20.1),(45.8,-24.4),(45.9,-22.7),(46.1,-26.2),
    (46.2,-18.6),
    (19.65,-17.0),(19.85,-15.7),(20.05,-17.6),(20.25,-16.2),(20.45,-18.2),(20.65,-16.6),(20.85,-17.4),(21.05,-15.9),
    (21.25,-18.0),(21.45,-16.5),(21.65,-17.2),(21.85,-15.8),(22.05,-17.7),(22.25,-16.6),(22.45,-18.4),(22.65,-17.1),
    (22.85,-16.0),(23.05,-17.6),(23.25,-16.4),(23.45,-18.2),(23.65,-17.0),(23.85,-16.3),(24.05,-17.3),(24.25,-15.8),
    (24.45,-18.0),(24.65,-16.9),(24.85,-17.5),(25.05,-18.6),(25.25,-16.6),(25.45,-17.8),(25.65,-16.4),(25.85,-18.2),
    (26.05,-17.1),(26.25,-16.6),(26.45,-18.5),(26.65,-17.4),(26.85,-18.0),(27.05,-16.6),(27.25,-17.3),(27.45,-18.8),
    (27.65,-16.9),(27.85,-17.6),(28.05,-18.5),(28.25,-16.4),(28.45,-17.7),(28.65,-18.9),(28.85,-16.3),(29.05,-17.9),
    (29.25,-15.8),(29.45,-17.1),(29.65,-18.3),(29.85,-17.6),(30.05,-16.7),(30.25,-17.5),(30.45,-18.4),(30.65,-16.6),
    (30.85,-17.8),(31.05,-19.0),(31.25,-17.7),(31.45,-16.8),(31.65,-18.4),(31.85,-17.2),(32.05,-19.0),(32.25,-17.8),
    (32.45,-16.6),(32.65,-18.2),(32.85,-17.1),(33.05,-18.8),(33.25,-15.9),(33.45,-17.4),(33.65,-18.6),(33.85,-17.0),
    (34.05,-18.1),(34.25,-19.4),(34.45,-17.6),(34.65,-19.0),(34.85,-18.2),(35.05,-19.7),(35.25,-18.6),(35.45,-17.8),
    (35.65,-19.3),(35.85,-18.4),(36.05,-20.3),(36.25,-19.0),(36.45,-18.2),(36.65,-19.6),(36.85,-20.6),(37.05,-18.7),
    (37.25,-19.8),(37.45,-18.5),(37.65,-20.4),(37.85,-19.3),(38.05,-18.5),(38.25,-19.8),(38.45,-20.6),(38.65,-18.9),
    (38.85,-19.9),(39.05,-18.7),(39.25,-20.1),(39.45,-21.1),(39.65,-19.6),(39.85,-20.8),(40.05,-19.4),(40.25,-20.5),
    (40.45,-21.9),(40.65,-20.8),(40.85,-21.5),(41.05,-20.9),(41.25,-22.3),(41.45,-20.5),(41.65,-21.3),(41.85,-20.2),
    (42.05,-22.0),(42.25,-21.1),(42.45,-22.7),(42.65,-21.4),(42.85,-20.6),(43.05,-22.1),(43.25,-21.5),(43.45,-23.0),
    (43.65,-21.9),(43.85,-22.8),(44.05,-21.2),(44.25,-22.4),(44.45,-24.0),(44.65,-22.7),(44.85,-21.7),(45.05,-23.1),
    (45.25,-22.4),(45.45,-24.1),(45.65,-21.8),(45.85,-23.0),(46.05,-22.3),(46.2,-24.4)]

titles = ["True Labels", "Classification Result"]
ylabels = ["HH (dB)", "HV (dB)"]
class_names = ["OW", "MYI"]


def scatter_pair(ax, ow, myi, legend=False):
    ow = np.array(ow)
    myi = np.array(myi)
    ax.scatter(ow[:, 0], ow[:, 1], s=17, marker="s", c="b", alpha=0.7,
               linewidths=0, label=class_names[0])
    ax.scatter(myi[:, 0], myi[:, 1], s=17, marker="s", c="r", alpha=0.7,
               linewidths=0, label=class_names[1])
    if legend:
        ax.legend(loc="upper right", fontsize=12.5, markerscale=1.7, framealpha=0.8)


fig = plt.figure(figsize=(9.65, 7.16), dpi=100)
w, h = 0.4124, 0.4092
ax_tl = fig.add_axes([0.1057, 0.5321, w, h])
ax_tr = fig.add_axes([0.5948, 0.5321, w, h])
ax_bl = fig.add_axes([0.1057, 0.0866, w, h])
ax_br = fig.add_axes([0.5948, 0.0866, w, h])

scatter_pair(ax_tl, hh_ow_true, hh_myi_true, legend=True)
scatter_pair(ax_tr, hh_ow_pred, hh_myi_pred)
scatter_pair(ax_bl, hv_ow_true, hv_myi_true)
scatter_pair(ax_br, hv_ow_pred, hv_myi_pred)

for ax in [ax_tl, ax_tr, ax_bl, ax_br]:
    ax.set_xlim(18.95, 47.05)
    ax.set_xticks([20, 25, 30, 35, 40, 45])
    ax.tick_params(labelsize=14.5, length=5, color="#333333")
    for sp in ax.spines.values():
        sp.set_color("#333333")
        sp.set_linewidth(1.1)

for ax in [ax_tl, ax_tr]:
    ax.set_ylim(-24, 3.9)
    ax.set_yticks([0, -5, -10, -15, -20])
    ax.tick_params(labelbottom=False)
for ax in [ax_bl, ax_br]:
    ax.set_ylim(-36.9, -7.05)
    ax.set_yticks([-10, -15, -20, -25, -30, -35])
    ax.set_xlabel("IA", fontsize=18, labelpad=3)

ax_tl.set_title(titles[0], fontsize=18)
ax_tr.set_title(titles[1], fontsize=18)
ax_tl.set_ylabel(ylabels[0], fontsize=17)
ax_bl.set_ylabel(ylabels[1], fontsize=17)

fig.savefig("out.png", dpi=100)
